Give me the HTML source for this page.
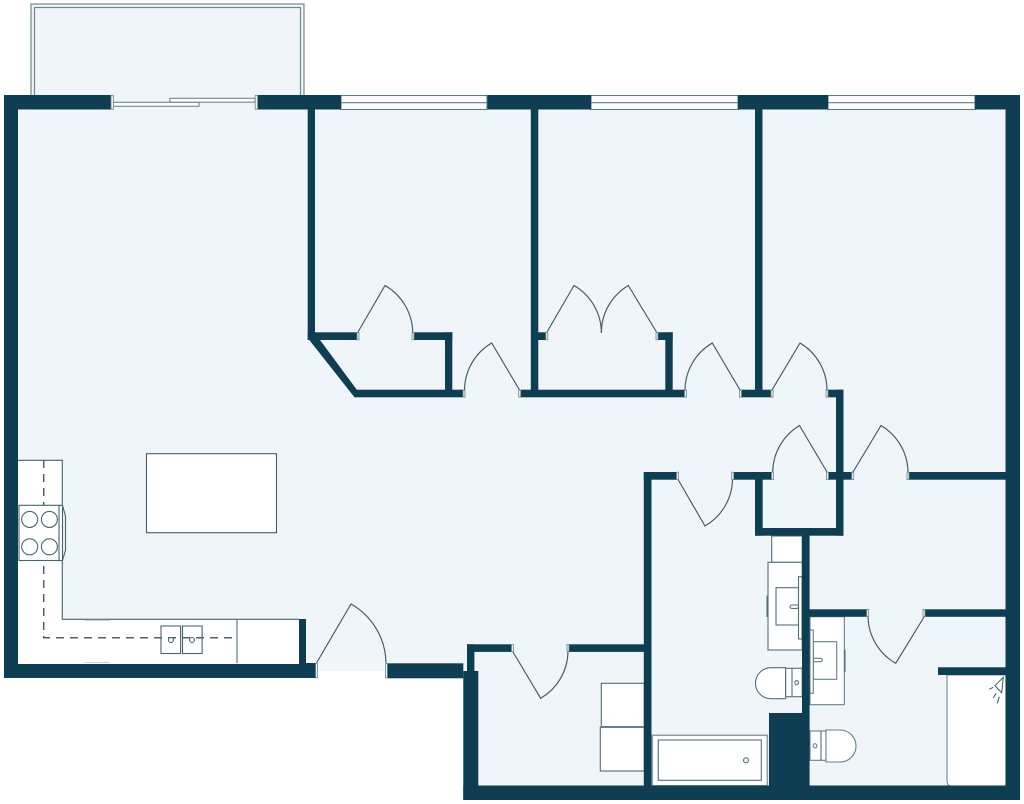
<!DOCTYPE html>
<html>
<head>
<meta charset="utf-8">
<title>Floor plan</title>
<style>
html,body{margin:0;padding:0;background:#fff;}
svg{display:block;}
</style>
</head>
<body>
<svg xmlns="http://www.w3.org/2000/svg" width="1024" height="804" viewBox="0 0 1024 804">
<rect width="1024" height="804" fill="#fff"/>

<!-- balcony -->
<rect x="31" y="4" width="273" height="95" fill="#eff5f8" stroke="#6f888f" stroke-width="1.2"/>
<rect x="34.5" y="7.5" width="266" height="91" fill="#eff5f8" stroke="#6f888f" stroke-width="1.2"/>

<!-- floor -->
<polygon points="4,95 1020,95 1020,800 463,800 463,671 4,671" fill="#eff5f8"/>

<!-- kitchen counters -->
<polygon points="18,460 62.5,460 62.5,619.3 299,619.3 299,664 18,664" fill="#fff"/>
<path d="M18,460.3H62.3V619.3H299" fill="none" stroke="#47646f" stroke-width="1.1"/>
<path d="M84.5,620.3H110M84.5,662.5H110" fill="none" stroke="#b5c4c9" stroke-width="0.8"/>
<path d="M43.7,460V505M43.7,566V637.7H237" fill="none" stroke="#48636e" stroke-width="1.5" stroke-dasharray="8 6"/>
<line x1="237" y1="619" x2="237" y2="663" stroke="#5f7a84" stroke-width="1.2"/>
<rect x="19" y="505.3" width="43.5" height="55.2" fill="#fff" stroke="#47646f" stroke-width="1.1"/>
<line x1="59" y1="505.5" x2="59" y2="560.5" stroke="#47646f" stroke-width="1.1"/>
<path d="M62.5,505.5L65.5,516V550L62.5,560.5" fill="none" stroke="#47646f" stroke-width="1.1"/>
<g fill="#fff" stroke="#47646f" stroke-width="1.1">
<circle cx="29.7" cy="519.4" r="8"/><circle cx="49.4" cy="519.4" r="8"/>
<circle cx="29.7" cy="546.8" r="8"/><circle cx="49.4" cy="546.8" r="8"/>
<rect x="161" y="626" width="19.6" height="27.5" fill="none"/>
<rect x="182.5" y="626" width="19.6" height="27.5" fill="none"/>
<circle cx="171" cy="640" r="2.5"/><circle cx="192" cy="640" r="2.5"/>
</g>
<rect x="146.5" y="453.7" width="130" height="79" fill="#fff" stroke="#42606b" stroke-width="1.1"/>

<!-- laundry closet boxes -->
<g fill="#fff" stroke="#4f6b75" stroke-width="1.1">
<rect x="601.3" y="683.3" width="43" height="43.4"/>
<rect x="600.3" y="727.3" width="44" height="43.7"/>
</g>

<!-- bath 1 fixtures -->
<g fill="#fff" stroke="#527079" stroke-width="1.1">
<rect x="771.7" y="536" width="30.5" height="26.3"/>
<rect x="768" y="562.3" width="34.2" height="87.7"/>
<rect x="776" y="587.7" width="22.5" height="37.3"/>
<rect x="790" y="605" width="8.5" height="3.4" rx="1.7"/>
<rect x="798.5" y="576.7" width="3.5" height="62.3"/>
<path d="M785.7,667.7H771A15.5,15.5 0 0 0 771,698.7H785.7Z"/>
<rect x="785.7" y="668.3" width="16.5" height="28.4"/>
<ellipse cx="796.7" cy="682.7" rx="1.8" ry="2.1"/>
</g>
<line x1="767" y1="595.7" x2="767" y2="617" stroke="#527079" stroke-width="1.1"/>
<line x1="792" y1="668.3" x2="792" y2="696.7" stroke="#527079" stroke-width="1.1"/>

<!-- tub -->
<rect x="652.3" y="735.3" width="115" height="50.5" fill="#fff" stroke="#8aa0a7" stroke-width="1.5"/>
<rect x="658.3" y="740" width="103" height="40.3" fill="#fff" stroke="#527079" stroke-width="1.1"/>
<circle cx="746" cy="760.3" r="2.5" fill="#fff" stroke="#527079" stroke-width="1.1"/>

<!-- bath 2 fixtures -->
<g fill="#fff" stroke="#64808a" stroke-width="1.1">
<rect x="810" y="616.7" width="34.3" height="88"/>
<rect x="813.3" y="641.7" width="23.4" height="37.6"/>
<rect x="813.3" y="658.3" width="9" height="3.4" rx="1.7"/>
<rect x="810" y="630" width="3.3" height="63.3"/>
<rect x="810" y="731" width="16" height="29.3"/>
<path d="M826,730H840A16,16 0 0 1 840,762H826Z"/>
<ellipse cx="815" cy="745.8" rx="1.9" ry="2.1"/>
</g>
<line x1="845" y1="650" x2="845" y2="672" stroke="#527079" stroke-width="1.1"/>
<line x1="821" y1="731" x2="821" y2="760" stroke="#527079" stroke-width="1.1"/>

<!-- shower -->
<path d="M947,675V780Q947,786 951,786H1006V675Z" fill="#fff" stroke="#738c93" stroke-width="1.1"/>
<path d="M1003.3,677.3L995,685.7L1001.7,692.7Z" fill="none" stroke="#3a5663" stroke-width="1"/>
<path d="M989.3,689.3L993.3,687.3M993.3,697.7L996,693.3M997.3,703.3L999.3,696.7" fill="none" stroke="#3a5663" stroke-width="1"/>

<!-- windows -->
<g fill="#fff" stroke="#5f7a84" stroke-width="1.1">
<rect x="341" y="95.5" width="146" height="14"/>
<rect x="591" y="95.5" width="147" height="14"/>
<rect x="828" y="95.5" width="147" height="14"/>
</g>
<path d="M341,102.7H487M591,102.7H738M828,102.7H975" stroke="#5f7a84" stroke-width="1.1" fill="none"/>

<!-- sliding door -->
<g fill="#fff" stroke="#6f888f" stroke-width="1.1">
<rect x="113" y="102.3" width="86" height="4"/>
<rect x="170" y="98.3" width="85" height="3.9"/>
</g>

<!-- walls -->
<g fill="#0f3d52">
<polygon points="4,95 111,95 111,109.5 18,109.5 18,664 299,664 299,619 306,619 306,663 315.5,663 315.5,678 4,678"/>
<rect x="257.5" y="95" width="83.5" height="14.5"/>
<rect x="487.5" y="95" width="103.5" height="14.5"/>
<rect x="738" y="95" width="90" height="14.5"/>
<rect x="975" y="95" width="45" height="14.5"/>
<rect x="1005.5" y="95" width="14.5" height="705"/>
<!-- closet 1 -->
<rect x="307.7" y="109" width="7.3" height="231"/>
<rect x="307.7" y="332.3" width="49.5" height="7.7"/>
<polygon points="307.7,338 320,340 357,390 354.5,397.3"/>
<rect x="413.5" y="332.3" width="38.8" height="7.7"/>
<rect x="445" y="332.3" width="7.3" height="60"/>
<rect x="354.5" y="389.7" width="109.5" height="7.6"/>
<!-- bedroom dividers -->
<rect x="530.8" y="109" width="7.5" height="288"/>
<rect x="520.5" y="389.7" width="164.5" height="7.6"/>
<rect x="538" y="332.3" width="8" height="7.7"/>
<rect x="657.5" y="332.3" width="15.2" height="7.7"/>
<rect x="665.3" y="332.3" width="7.4" height="60"/>
<rect x="755" y="109" width="7.5" height="288"/>
<rect x="741" y="389.7" width="30.5" height="7.6"/>
<rect x="828" y="389.7" width="15.5" height="7.6"/>
<rect x="836" y="389.7" width="7.5" height="146"/>
<!-- hall -->
<rect x="643.8" y="472" width="7.7" height="328"/>
<rect x="643.8" y="472" width="33.7" height="7.7"/>
<rect x="733.5" y="472" width="38.8" height="7.7"/>
<rect x="755" y="472" width="7.7" height="63.7"/>
<rect x="755" y="528" width="88.5" height="7.7"/>
<rect x="828" y="472" width="24.5" height="7.7"/>
<rect x="908.5" y="472" width="98" height="7.7"/>
<!-- baths -->
<rect x="802" y="535" width="7.6" height="265"/>
<rect x="809" y="609.3" width="58.7" height="7.5"/>
<rect x="925" y="609.3" width="81.5" height="7.5"/>
<rect x="938" y="667.3" width="68.5" height="7.7"/>
<rect x="769" y="713" width="33.5" height="87"/>
<!-- bottom -->
<rect x="463.3" y="785.5" width="556.7" height="14.5"/>
<rect x="463.3" y="671" width="15" height="129"/>
<rect x="467" y="644.3" width="7.4" height="30"/>
<rect x="467" y="644.3" width="45.3" height="7.6"/>
<rect x="568.5" y="644.3" width="76" height="7.6"/>
<rect x="387.3" y="663.3" width="76" height="15"/>
</g>

<!-- door stops -->
<g fill="#eaf1f3" stroke="#6f888f" stroke-width="0.8">
<rect x="111" y="95.3" width="2.4" height="14"/>
<rect x="255.2" y="95.3" width="2.4" height="14"/>
<rect x="315.6" y="663.5" width="1.8" height="14.5"/>
<rect x="385.6" y="663.5" width="1.8" height="14.5"/>
<rect x="357" y="332.5" width="2" height="7.4"/>
<rect x="412" y="332.5" width="2" height="7.4"/>
<rect x="463" y="390" width="2" height="7.2"/>
<rect x="518.7" y="390" width="2" height="7.2"/>
<rect x="545.8" y="332.5" width="2" height="7.4"/>
<rect x="656" y="332.5" width="2" height="7.4"/>
<rect x="684.5" y="390" width="2" height="7.2"/>
<rect x="739.5" y="390" width="2" height="7.2"/>
<rect x="771" y="390" width="2" height="7.2"/>
<rect x="826" y="390" width="2" height="7.2"/>
<rect x="676.5" y="472.2" width="2" height="7.4"/>
<rect x="731.7" y="472.2" width="2" height="7.4"/>
<rect x="771.5" y="472.2" width="2" height="7.4"/>
<rect x="826.5" y="472.2" width="2" height="7.4"/>
<rect x="851.7" y="472.2" width="2" height="7.4"/>
<rect x="907" y="472.2" width="2" height="7.4"/>
<rect x="866.7" y="609.5" width="2" height="7.2"/>
<rect x="923" y="609.5" width="2" height="7.2"/>
<rect x="511.5" y="644.5" width="2" height="7.2"/>
<rect x="567" y="644.5" width="2" height="7.2"/>
</g>

<!-- door swings -->
<g fill="none" stroke="#3f5c68" stroke-width="1.15">
<path d="M358,332L385,285.5A55,55 0 0 1 412.7,332"/>
<path d="M519.5,390L491.7,343A55,55 0 0 0 464.5,390"/>
<path d="M547,332L574,285.5A55,55 0 0 1 601.4,333"/>
<path d="M656.5,332L628.3,285.5A55,55 0 0 0 601.4,333"/>
<path d="M740,390L712.3,343A55,55 0 0 0 685,390"/>
<path d="M772,390L800,343A55,55 0 0 1 827,390"/>
<path d="M678,479.5L705,526A55,55 0 0 0 732.5,479.5"/>
<path d="M827,472L799.5,425.5A55,55 0 0 0 772.7,472"/>
<path d="M853,472L881,425.5A55,55 0 0 1 908,472"/>
<path d="M924,617L895.7,663.3A55,55 0 0 1 868,617"/>
<path d="M513,652L540.7,698.3A55,55 0 0 0 568,652"/>
<path d="M316.5,663L351,604A69,69 0 0 1 386,663"/>
</g>
</svg>
</body>
</html>
